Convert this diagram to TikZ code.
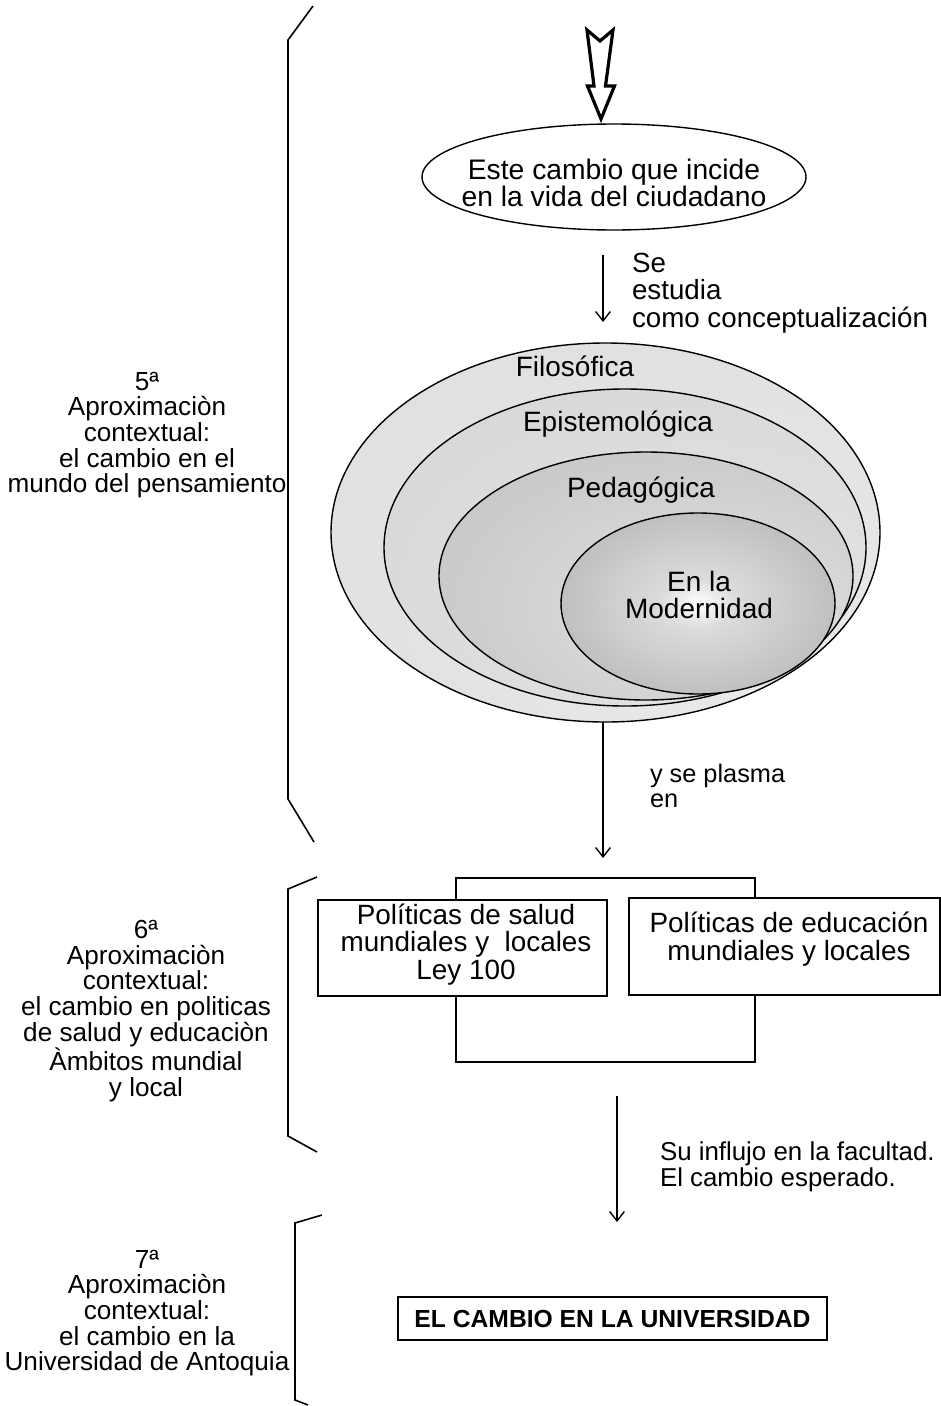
\documentclass[tikz,border=0pt]{standalone}
\usepackage{fontspec}
\setmainfont{Liberation Sans}
\usetikzlibrary{shapes.geometric,arrows.meta}

% fills for the nested rings
\definecolor{aIn}{gray}{0.92}\definecolor{aOut}{gray}{0.86}
\definecolor{bIn}{gray}{0.91}\definecolor{bOut}{gray}{0.82}
\definecolor{cIn}{gray}{0.90}\definecolor{cOut}{gray}{0.72}
\definecolor{dMid}{gray}{0.86}\definecolor{dOut}{gray}{0.60}
\pgfdeclareradialshading{shadeA}{\pgfpoint{16.8bp}{-18.6bp}}{color(0bp)=(aIn); color(50bp)=(aOut)}
\pgfdeclareradialshading{shadeB}{\pgfpoint{15bp}{-17.5bp}}{color(0bp)=(bIn); color(50bp)=(bOut)}
\pgfdeclareradialshading{shadeC}{\pgfpoint{12.6bp}{-10.9bp}}{color(0bp)=(cIn); color(50bp)=(cOut)}
\pgfdeclareradialshading{shadeD}{\pgfpoint{0bp}{0bp}}{color(0bp)=(white); color(7bp)=(dMid); color(50bp)=(dOut)}

\begin{document}
\begin{tikzpicture}[x=0.75pt,y=-0.75pt,
  every node/.style={inner sep=0pt, outer sep=0pt},
  txt/.style={font=\fontsize{21}{20.6}\selectfont, align=center},
  side/.style={font=\fontsize{19.6}{19.2}\selectfont, align=center},
  ring/.style={ellipse, draw=black, line width=1.05pt},
  box/.style={rectangle, draw=black, line width=1.05pt},
  flow/.style={line width=1.05pt, -{Straight Barb[length=7pt,width=11pt,line width=1.05pt]}},
  brace/.style={line width=1.2pt},
  hollow/.style={draw=black, fill=white, line width=2.4pt, miter limit=20}
]
\useasboundingbox (0,0) rectangle (941,1406);

% ---- top: change in the citizen's life
\node[ring, minimum width=288pt, minimum height=79.5pt] (cambio) at (614,177) {};
\node[txt, font=\fontsize{21.2}{20.6}\selectfont] at (614,183) {Este cambio que incide\\en la vida del ciudadano};
\draw[hollow] (587,30) -- (600,41) -- (613,30) -- (605.5,86) -- (614.5,86)
  -- (601,119) -- (587.5,86) -- (594,86) -- cycle;

\coordinate (s1) at (603,255);
\coordinate (e1) at (603,322);
\draw[flow] (s1) -- (e1);
\node[txt, font=\fontsize{20.8}{20.6}\selectfont, anchor=west, align=left] at (632,293) {Se\\estudia\\como conceptualización};

% ---- nested conceptual rings
\node[ring, shading=shadeA, minimum width=411.75pt, minimum height=284.25pt] (filo) at (605.5,532.5) {};
\node[ring, shading=shadeB, minimum width=361.5pt, minimum height=237.75pt] (epis) at (625,547.5) {};
\node[ring, shading=shadeC, minimum width=310.5pt, minimum height=186pt] (peda) at (646,576) {};
\node[ring, shading=shadeD, minimum width=205.5pt, minimum height=135.75pt] (mode) at (698,603.5) {};
\begin{scope}[every node/.append style={font=\fontsize{21.6}{20.6}\selectfont}]
\node[txt] at (575,366) {Filosófica};
\node[txt] at (618,424) {Epistemológica};
\node[txt] at (641,490) {Pedagógica};
\node[txt] at (699,595) {En la\\Modernidad};
\end{scope}

\coordinate (e2) at (603,858);
\draw[flow] (filo.south -| e2) -- (e2);
\node[txt, font=\fontsize{19}{18.8}\selectfont, anchor=west, align=left] at (650,786) {y se plasma\\en};

% ---- health and education policies
\node[box, minimum width=216.75pt, minimum height=72pt] (salud) at (462.5,948) {};
\node[txt, font=\fontsize{20.9}{20.6}\selectfont] at (466,944.5) {Políticas de salud\\mundiales y\ \ locales\\Ley 100};
\node[box, minimum width=233.25pt, minimum height=72.75pt] (educ) at (784.5,946.5) {};
\node[txt, font=\fontsize{20.9}{20.6}\selectfont] at (789,939) {Políticas de educación\\mundiales y locales};

\coordinate (jl) at (456,0);
\coordinate (jr) at (755,0);
\draw[line width=1.05pt] (salud.north -| jl) -- ++(0,-22) -| (educ.north -| jr);
\draw[line width=1.05pt] (salud.south -| jl) -- (456,1062) -| (educ.south -| jr);

\coordinate (s3) at (617,1096);
\coordinate (e3) at (617,1222);
\draw[flow] (s3) -- (e3);
\node[txt, font=\fontsize{19.4}{19.5}\selectfont, anchor=west, align=left] at (660,1167) {Su influjo en la facultad.\\El cambio esperado.};

% ---- the university
\node[box, line width=1.5pt, minimum width=321.75pt, minimum height=32.25pt,
  font=\fontsize{18.5}{20}\selectfont\bfseries] (univ) at (612.5,1318.5) {EL CAMBIO EN LA UNIVERSIDAD};

% ---- side brackets and their labels
\draw[brace] (313,6) -- (288,40) -- (288,799) -- (314,842);
\draw[brace] (317,877) -- (288,889) -- (288,1136) -- (317,1152);
\draw[brace] (322,1215) -- (295,1223) -- (295,1400) -- (308,1405);

\node[side] (ap5) at (147,435) {5ª\\Aproximaciòn\\contextual:\\el cambio en el\\mundo del pensamiento};
\node[side] (ap6) at (146,1011) {6ª\\Aproximaciòn\\contextual:\\el cambio en politicas\\de salud y educaciòn\\Àmbitos mundial\\y local};
\node[side] (ap7) at (147,1313) {7ª\\Aproximaciòn\\contextual:\\el cambio en la\\Universidad de Antoquia};
\end{tikzpicture}
\end{document}
